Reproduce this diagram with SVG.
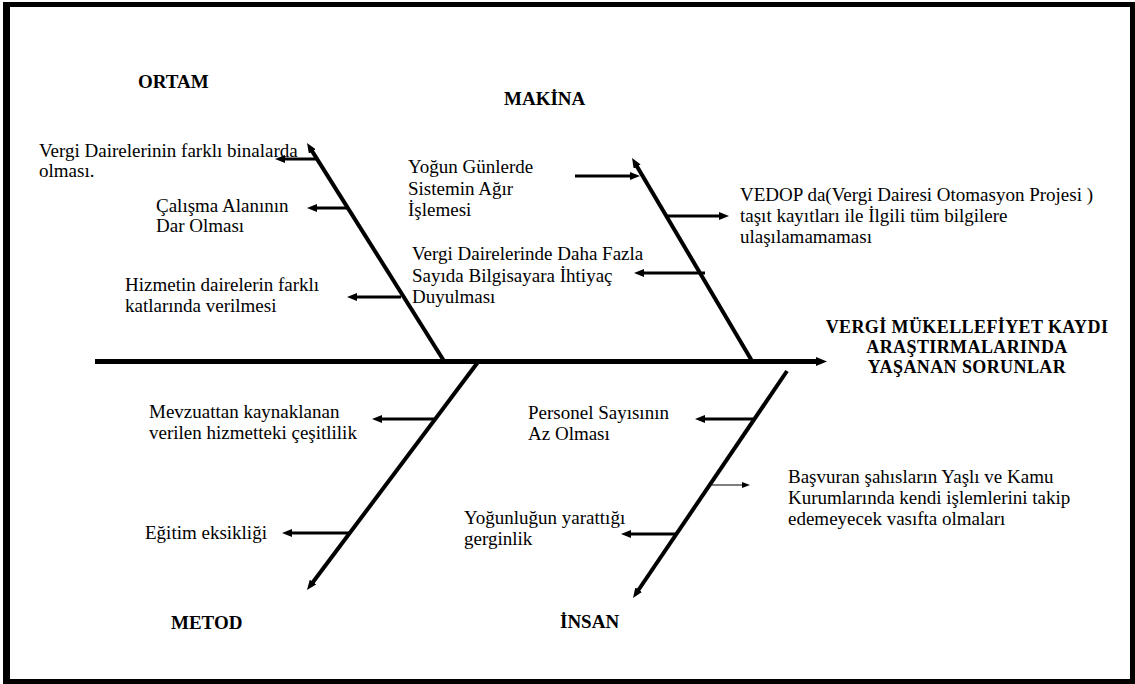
<svg xmlns="http://www.w3.org/2000/svg" width="1135" height="684" viewBox="0 0 1135 684">
<style>
.t{font-family:"Liberation Serif","Times New Roman",serif;font-size:19px;fill:#000}
.b{font-family:"Liberation Serif","Times New Roman",serif;font-size:19px;font-weight:bold;fill:#000}
.h{font-family:"Liberation Serif","Times New Roman",serif;font-size:18px;font-weight:bold;letter-spacing:0.4px;fill:#000}
.bone{stroke:#000;stroke-width:4;fill:none}
.br{stroke:#000;stroke-width:3;fill:none}
</style>
<defs>
<marker id="ah" viewBox="0 0 10 10" markerWidth="10" markerHeight="8" refX="4" refY="5" orient="auto" markerUnits="userSpaceOnUse" preserveAspectRatio="none"><path d="M0,0 L10,5 L0,10 z" fill="#000"/></marker>
<marker id="big" viewBox="0 0 11 9" markerWidth="11" markerHeight="9" refX="3" refY="4.5" orient="auto" markerUnits="userSpaceOnUse"><path d="M0,0 L11,4.5 L0,9 z" fill="#000"/></marker>
<marker id="sm" viewBox="0 0 8 6" markerWidth="8" markerHeight="6" refX="3" refY="3" orient="auto" markerUnits="userSpaceOnUse"><path d="M0,0 L8,3 L0,6 z" fill="#000"/></marker>
</defs>
<rect width="1135" height="684" fill="#fff"/>
<path d="M3,2 H1135 V684 H3 Z M10,7 V679 H1130 V7 Z" fill="#000" fill-rule="evenodd"/>

<g id="connectors">
<line class="bone" x1="95" y1="361.5" x2="819" y2="361.5" style="stroke-width:5" marker-end="url(#big)"/>
<line class="bone" x1="444" y1="361" x2="310.2" y2="148.1" marker-end="url(#ah)"/>
<line class="bone" x1="752" y1="361" x2="635.1" y2="163.2" marker-end="url(#ah)"/>
<line class="bone" x1="478" y1="362" x2="310.6" y2="585.2" marker-end="url(#ah)"/>
<line class="bone" x1="787" y1="371" x2="636.4" y2="593" marker-end="url(#ah)"/>
<line class="br" x1="316" y1="159" x2="281" y2="159" marker-end="url(#ah)"/>
<line class="br" x1="347" y1="208" x2="313" y2="208" marker-end="url(#ah)"/>
<line class="br" x1="401" y1="297" x2="353" y2="297" marker-end="url(#ah)"/>
<line class="br" x1="575" y1="176" x2="634" y2="176" marker-end="url(#ah)"/>
<line class="br" x1="667" y1="216" x2="723" y2="216" marker-end="url(#ah)"/>
<line class="br" x1="705" y1="273" x2="640" y2="273" marker-end="url(#ah)"/>
<line class="br" x1="435" y1="419" x2="378" y2="419" marker-end="url(#ah)"/>
<line class="br" x1="349" y1="533" x2="288" y2="533" marker-end="url(#ah)"/>
<line class="br" x1="753" y1="419" x2="701" y2="419" marker-end="url(#ah)"/>
<line x1="710" y1="485" x2="745" y2="485" stroke="#000" stroke-width="1" marker-end="url(#sm)"/>
<line class="br" x1="676" y1="534" x2="627" y2="534" marker-end="url(#ah)"/>
</g>

<g id="head"><text class="h" text-anchor="middle"><tspan x="967" y="333">VERGİ MÜKELLEFİYET KAYDI</tspan><tspan x="967" y="353">ARAŞTIRMALARINDA</tspan><tspan x="967" y="373">YAŞANAN SORUNLAR</tspan></text></g>

<g id="ortam"><text class="b" x="138" y="88">ORTAM</text></g>
<g id="makina"><text class="b" x="504" y="105">MAKİNA</text></g>
<g id="metod"><text class="b" x="171" y="629">METOD</text></g>
<g id="insan"><text class="b" x="560" y="628">İNSAN</text></g>

<g id="o1"><text class="t"><tspan x="39" y="157">Vergi Dairelerinin farklı binalarda</tspan><tspan x="39" y="177">olması.</tspan></text></g>
<g id="o2"><text class="t"><tspan x="156" y="212">Çalışma Alanının</tspan><tspan x="156" y="232">Dar Olması</tspan></text></g>
<g id="o3"><text class="t"><tspan x="125" y="291">Hizmetin dairelerin farklı</tspan><tspan x="125" y="312">katlarında verilmesi</tspan></text></g>

<g id="m1"><text class="t"><tspan x="408" y="173">Yoğun Günlerde</tspan><tspan x="408" y="195">Sistemin Ağır</tspan><tspan x="408" y="216">İşlemesi</tspan></text></g>
<g id="m2"><text class="t"><tspan x="412" y="260">Vergi Dairelerinde Daha Fazla</tspan><tspan x="412" y="282">Sayıda Bilgisayara İhtiyaç</tspan><tspan x="412" y="303">Duyulması</tspan></text></g>
<g id="m3"><text class="t"><tspan x="740" y="201">VEDOP da(Vergi Dairesi Otomasyon Projesi )</tspan><tspan x="740" y="222">taşıt kayıtları ile İlgili tüm bilgilere</tspan><tspan x="740" y="243">ulaşılamamaması</tspan></text></g>

<g id="d1"><text class="t"><tspan x="149" y="418">Mevzuattan kaynaklanan</tspan><tspan x="149" y="439">verilen hizmetteki çeşitlilik</tspan></text></g>
<g id="d2"><text class="t" x="145" y="539">Eğitim eksikliği</text></g>

<g id="i1"><text class="t"><tspan x="528" y="419">Personel Sayısının</tspan><tspan x="528" y="440">Az Olması</tspan></text></g>
<g id="i2"><text class="t"><tspan x="788" y="483">Başvuran şahısların Yaşlı ve Kamu</tspan><tspan x="788" y="504">Kurumlarında kendi işlemlerini takip</tspan><tspan x="788" y="525">edemeyecek vasıfta olmaları</tspan></text></g>
<g id="i3"><text class="t"><tspan x="464" y="524">Yoğunluğun yarattığı</tspan><tspan x="464" y="545">gerginlik</tspan></text></g>
</svg>
